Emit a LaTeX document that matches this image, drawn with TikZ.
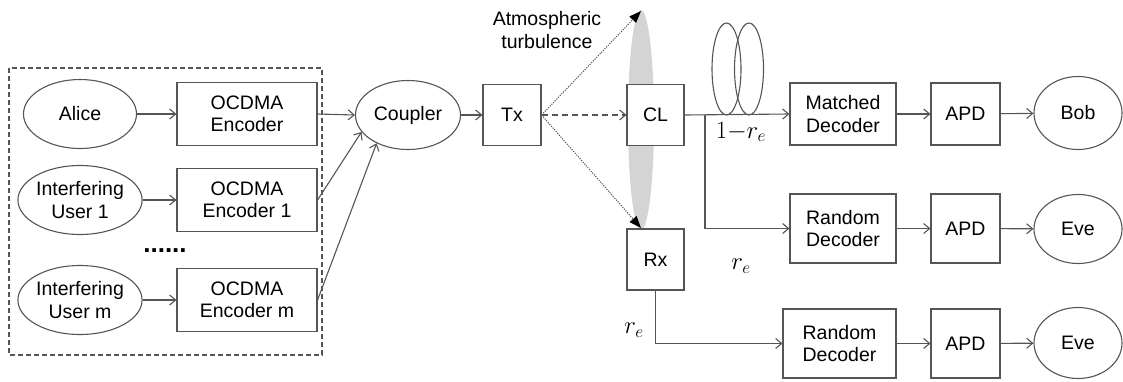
\documentclass[tikz,border=0pt]{standalone}
\usepackage{fontspec}
\setmainfont{Liberation Sans}
\usetikzlibrary{shapes.geometric,arrows.meta}
\definecolor{ln}{HTML}{555555}
\begin{document}
\begin{tikzpicture}[x=1pt,y=-1pt,
  every node/.style={font=\fontsize{19.5}{22.5}\selectfont, text=black},
  blk/.style={draw=ln, line width=1.1pt, fill=white, rectangle, inner sep=0pt, align=center},
  ell/.style={draw=ln, line width=1.1pt, fill=white, ellipse, inner sep=0pt, align=center},
  arr/.style={draw=ln, line width=1.1pt, -{Straight Barb[length=6pt,width=10pt]}},
  darr/.style={draw=ln, line width=1pt, dash pattern=on 1.2pt off 1.2pt, -{Triangle[length=12pt,width=9pt,black]}},
  mlab/.style={font=\fontsize{24}{28}\selectfont}
]
\useasboundingbox (0,0) rectangle (1123,381);
% dashed group box
\draw[ln, line width=1.1pt, dash pattern=on 5pt off 3pt] (9,68) rectangle (322,355);
% users
\node[ell, minimum width=113pt, minimum height=69pt] (alice) at (80,114) {Alice};
\node[ell, minimum width=113pt, minimum height=69pt] (u1) at (80,200) {Interfering\\User 1};
\node[ell, minimum width=113pt, minimum height=69pt] (um) at (80,300) {Interfering\\User m};
\node[blk, minimum width=140pt, minimum height=63pt] (enc0) at (247,114) {OCDMA\\Encoder};
\node[blk, minimum width=140pt, minimum height=63pt] (enc1) at (247,200) {OCDMA\\Encoder 1};
\node[blk, minimum width=140pt, minimum height=63pt] (encm) at (247,300) {OCDMA\\Encoder m};
\node[font=\fontsize{26}{28}\bfseries, anchor=base] (dots) at (165,252) {......};
% coupler, Tx
\node[ell, minimum width=105pt, minimum height=69pt] (coupler) at (408,115) {Coupler};
\node[blk, minimum width=58pt, minimum height=61pt] (tx) at (512,115) {Tx};
% lens
\fill[black!17] (641,120) ellipse [x radius=13, y radius=110];
\coordinate (ltop) at (641,11);
\coordinate (lbot) at (641,228);
\node[blk, minimum width=57pt, minimum height=61pt] (cl) at (655.5,115) {CL};
\node[blk, minimum width=57pt, minimum height=61pt] (rx) at (655.5,259.5) {Rx};
\node[align=center] (atm) at (547,30) {Atmospheric\\turbulence};
% fiber coils
\draw[ln, line width=1.1pt] (726.5,69) ellipse [x radius=14.5, y radius=46];
\draw[ln, line width=1.1pt] (749,69) ellipse [x radius=14.5, y radius=46];
% receivers
\node[blk, minimum width=106pt, minimum height=62pt] (md) at (843,114) {Matched\\Decoder};
\node[blk, minimum width=69pt, minimum height=62pt] (apd1) at (965.5,114) {APD};
\node[ell, minimum width=88pt, minimum height=73pt] (bob) at (1078,113) {Bob};
\node[blk, minimum width=106pt, minimum height=69pt] (rd1) at (843,228.5) {Random\\Decoder};
\node[blk, minimum width=69pt, minimum height=69pt] (apd2) at (965.5,228.5) {APD};
\node[ell, minimum width=88pt, minimum height=69pt] (eve1) at (1078,229) {Eve};
\node[blk, minimum width=113pt, minimum height=69pt] (rd2) at (839.5,343.5) {Random\\Decoder};
\node[blk, minimum width=69pt, minimum height=69pt] (apd3) at (965.5,343.5) {APD};
\node[ell, minimum width=88pt, minimum height=71pt] (eve2) at (1078,343) {Eve};
% labels
\node[mlab] (l1) at (741,132) {$1{-}r_e$};
\node[mlab] (l2) at (741,266) {$r_e$};
\node[mlab] (l3) at (634,330) {$r_e$};
% connectors
\draw[arr] (alice) -- (enc0);
\draw[arr] (u1) -- (enc1);
\draw[arr] (um) -- (encm);
\draw[arr] (enc0.east) -- (coupler.west);
\draw[arr] (enc1.east) -- (coupler.200);
\draw[arr] (encm.east) -- (coupler.222);
\draw[arr] (coupler) -- (tx);
\draw[arr, dash pattern=on 6pt off 4pt] (tx.east) -- (cl.west);
\draw[darr] (tx.east) -- (ltop);
\draw[darr] (tx.east) -- (lbot);
\coordinate (br) at (705,115);
\draw[arr] (cl.east) -- (md.west);
\draw[arr] (br) |- (rd1.west);
\draw[arr] (rx.south) |- (rd2.west);
\draw[arr] (md) -- (apd1);
\draw[arr] (apd1) -- (bob);
\draw[arr] (rd1) -- (apd2);
\draw[arr] (apd2) -- (eve1);
\draw[arr] (rd2) -- (apd3);
\draw[arr] (apd3) -- (eve2);
\end{tikzpicture}
\end{document}
